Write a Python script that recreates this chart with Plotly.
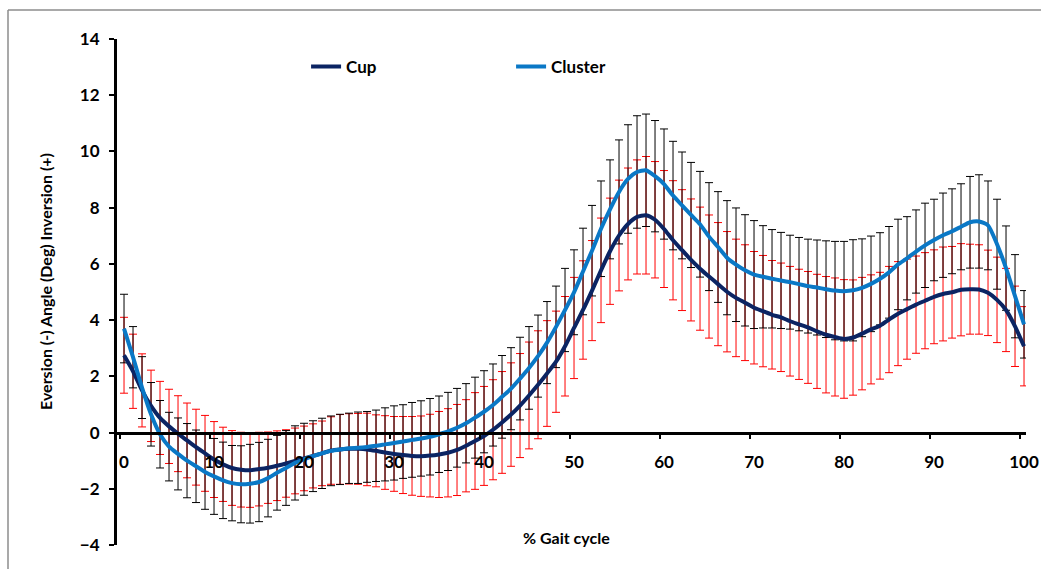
import plotly.graph_objects as go

# % of gait cycle, sampled every 1 %
gait_pct = list(range(0, 101))

# Cup: mean angle and standard deviation (deg)
cup_mean = [
    2.75, 2.18, 1.50, 0.95, 0.52, 0.22, -0.04, -0.28, -0.52, -0.74,
    -0.96, -1.13, -1.26, -1.32, -1.34, -1.30, -1.25, -1.18, -1.10, -1.01,
    -0.92, -0.83, -0.74, -0.64, -0.60, -0.58, -0.58, -0.60, -0.65, -0.71,
    -0.76, -0.80, -0.83, -0.84, -0.82, -0.78, -0.72, -0.62, -0.47, -0.30,
    -0.12, 0.10, 0.36, 0.64, 0.96, 1.32, 1.70, 2.10, 2.52, 3.07,
    3.72, 4.36, 5.05, 5.77, 6.45, 7.01, 7.42, 7.67, 7.73, 7.57,
    7.24, 6.84, 6.49, 6.14, 5.83, 5.55, 5.28, 5.01, 4.79, 4.62,
    4.44, 4.32, 4.19, 4.10, 3.96, 3.85, 3.74, 3.60, 3.48, 3.40,
    3.33, 3.38, 3.52, 3.67, 3.80, 4.02, 4.23, 4.39, 4.55, 4.69,
    4.83, 4.93, 4.99, 5.08, 5.10, 5.09, 4.97, 4.72, 4.36, 3.78,
    3.07,
]
cup_sd = [
    1.35, 1.32, 1.30, 1.27, 1.30, 1.32, 1.35, 1.33, 1.35, 1.35,
    1.35, 1.32, 1.33, 1.33, 1.32, 1.31, 1.27, 1.24, 1.20, 1.17,
    1.15, 1.14, 1.15, 1.20, 1.24, 1.25, 1.26, 1.29, 1.28, 1.31,
    1.33, 1.37, 1.40, 1.43, 1.47, 1.53, 1.57, 1.62, 1.64, 1.72,
    1.76, 1.78, 1.81, 1.84, 1.85, 1.90, 1.92, 1.88, 1.80, 1.77,
    1.80, 1.75, 1.78, 1.86, 1.89, 1.97, 1.99, 2.03, 2.09, 2.07,
    2.08, 2.12, 2.15, 2.17, 2.19, 2.19, 2.19, 2.14, 2.09, 2.06,
    2.00, 1.98, 1.93, 1.93, 1.95, 1.96, 1.99, 2.03, 2.07, 2.10,
    2.11, 2.05, 2.00, 1.94, 1.90, 1.89, 1.85, 1.78, 1.73, 1.71,
    1.67, 1.67, 1.63, 1.64, 1.60, 1.59, 1.52, 1.52, 1.48, 1.43,
    1.41,
]

# Cluster: mean angle and standard deviation (deg)
cluster_mean = [
    3.70, 2.68, 1.60, 0.65, -0.06, -0.50, -0.76, -1.00, -1.20, -1.40,
    -1.56, -1.70, -1.80, -1.84, -1.82, -1.76, -1.62, -1.43, -1.26, -1.08,
    -0.95, -0.84, -0.74, -0.65, -0.60, -0.56, -0.54, -0.51, -0.47, -0.42,
    -0.37, -0.32, -0.26, -0.21, -0.15, -0.06, 0.04, 0.17, 0.33, 0.53,
    0.74, 0.98, 1.27, 1.56, 1.92, 2.30, 2.72, 3.20, 3.76, 4.36,
    4.99, 5.73, 6.47, 7.25, 7.94, 8.56, 9.02, 9.27, 9.33, 9.12,
    8.84, 8.43, 8.08, 7.74, 7.41, 6.97, 6.60, 6.22, 5.97, 5.77,
    5.62, 5.54, 5.47, 5.41, 5.35, 5.28, 5.21, 5.16, 5.10, 5.05,
    5.03, 5.06, 5.15, 5.29, 5.47, 5.70, 5.98, 6.20, 6.44, 6.66,
    6.85, 7.02, 7.16, 7.32, 7.48, 7.51, 7.37, 6.70, 5.85, 4.85,
    3.85,
]
cluster_sd = [
    1.22, 1.09, 1.10, 1.13, 1.20, 1.22, 1.28, 1.32, 1.29, 1.33,
    1.35, 1.36, 1.34, 1.37, 1.40, 1.41, 1.38, 1.33, 1.33, 1.32,
    1.28, 1.26, 1.25, 1.24, 1.25, 1.25, 1.27, 1.26, 1.27, 1.30,
    1.32, 1.31, 1.33, 1.34, 1.36, 1.36, 1.39, 1.40, 1.41, 1.44,
    1.46, 1.46, 1.47, 1.46, 1.47, 1.47, 1.46, 1.46, 1.45, 1.48,
    1.51, 1.54, 1.61, 1.70, 1.76, 1.85, 1.93, 2.00, 2.00, 1.98,
    1.96, 1.93, 1.90, 1.87, 1.88, 1.92, 1.97, 2.03, 2.02, 1.98,
    1.92, 1.82, 1.75, 1.71, 1.67, 1.66, 1.67, 1.69, 1.72, 1.75,
    1.77, 1.80, 1.74, 1.70, 1.64, 1.63, 1.61, 1.48, 1.48, 1.50,
    1.45, 1.50, 1.51, 1.53, 1.63, 1.66, 1.58, 1.60, 1.50, 1.48,
    1.20,
]

x_tick_vals = [0, 10, 20, 30, 40, 50, 60, 70, 80, 90, 100]
y_tick_vals = [-4, -2, 0, 2, 4, 6, 8, 10, 12, 14]

FONT = "Lato"
CUP_COLOR = "#0B2463"
CLUSTER_COLOR = "#0A78C6"

fig = go.Figure()

# error bars first so the mean curves sit on top
fig.add_trace(go.Scatter(
    x=gait_pct, y=cup_mean, mode="markers",
    marker=dict(size=1, color="rgba(0,0,0,0)"),
    error_y=dict(type="data", array=cup_sd, color="#FF0000", thickness=1, width=4),
    showlegend=False, hoverinfo="skip",
))
fig.add_trace(go.Scatter(
    x=gait_pct, y=cluster_mean, mode="markers",
    marker=dict(size=1, color="rgba(0,0,0,0)"),
    error_y=dict(type="data", array=cluster_sd, color="#000000", thickness=1, width=4),
    showlegend=False, hoverinfo="skip",
))
fig.add_trace(go.Scatter(
    x=gait_pct, y=cup_mean, mode="lines", name="Cup",
    line=dict(color=CUP_COLOR, width=4, shape="spline", smoothing=0.6),
))
fig.add_trace(go.Scatter(
    x=gait_pct, y=cluster_mean, mode="lines", name="Cluster",
    line=dict(color=CLUSTER_COLOR, width=4, shape="spline", smoothing=0.6),
))

fig.update_layout(
    width=1041, height=569,
    margin=dict(l=117, r=15, t=39, b=24, autoexpand=False),
    paper_bgcolor="white", plot_bgcolor="white",
    font=dict(family=FONT, size=17, color="black"),
    showlegend=True,
    legend=dict(
        orientation="h", x=0.208, y=0.945, xanchor="left", yanchor="middle",
        font=dict(family=FONT, size=17, color="black", weight="bold"),
        entrywidth=160, entrywidthmode="pixels",
        bgcolor="rgba(0,0,0,0)", borderwidth=0,
    ),
    xaxis=dict(
        range=[-0.78, 100.22],
        anchor="free", position=4 / 18,
        showline=True, linecolor="black", linewidth=3,
        showgrid=False, zeroline=False,
        tickmode="array", tickvals=x_tick_vals,
        ticks="outside", ticklen=13, tickcolor="rgba(0,0,0,0)",
        tickfont=dict(family=FONT, size=17, color="black", weight="bold"),
        minor=dict(
            tickmode="array", tickvals=[v + 9.5 for v in x_tick_vals[:-1]] + [-0.5],
            ticks="outside", ticklen=4, tickwidth=2, tickcolor="black",
        ),
    ),
    yaxis=dict(
        range=[-4, 14],
        showline=True, linecolor="black", linewidth=3,
        showgrid=False, zeroline=False,
        tickmode="array", tickvals=y_tick_vals,
        ticks="outside", ticklen=5, tickwidth=2, tickcolor="black",
        ticklabelstandoff=6,
        tickfont=dict(family=FONT, size=17, color="black", weight="bold"),
    ),
)

# axis titles
fig.add_annotation(
    text="Eversion (-) Angle (Deg) Inversion (+)",
    xref="paper", yref="paper", x=(45 - 117) / 909, y=(545 - 282) / 506,
    textangle=-90, showarrow=False, xanchor="center", yanchor="middle",
    font=dict(family=FONT, size=16, color="black", weight="bold"),
)
fig.add_annotation(
    text="% Gait cycle",
    xref="paper", yref="paper", x=(566 - 117) / 909, y=(545 - 537) / 506,
    showarrow=False, xanchor="center", yanchor="middle",
    font=dict(family=FONT, size=16, color="black", weight="bold"),
)

# chart frame (top and left edges)
fig.add_shape(type="line", xref="paper", yref="paper",
              x0=-109 / 909, x1=1.03, y0=535 / 506, y1=535 / 506,
              line=dict(color="#8C8C8C", width=1.5))
fig.add_shape(type="line", xref="paper", yref="paper",
              x0=-109 / 909, x1=-109 / 909, y0=535 / 506, y1=-0.06,
              line=dict(color="#8C8C8C", width=1.5))

fig.write_html("out.html")
